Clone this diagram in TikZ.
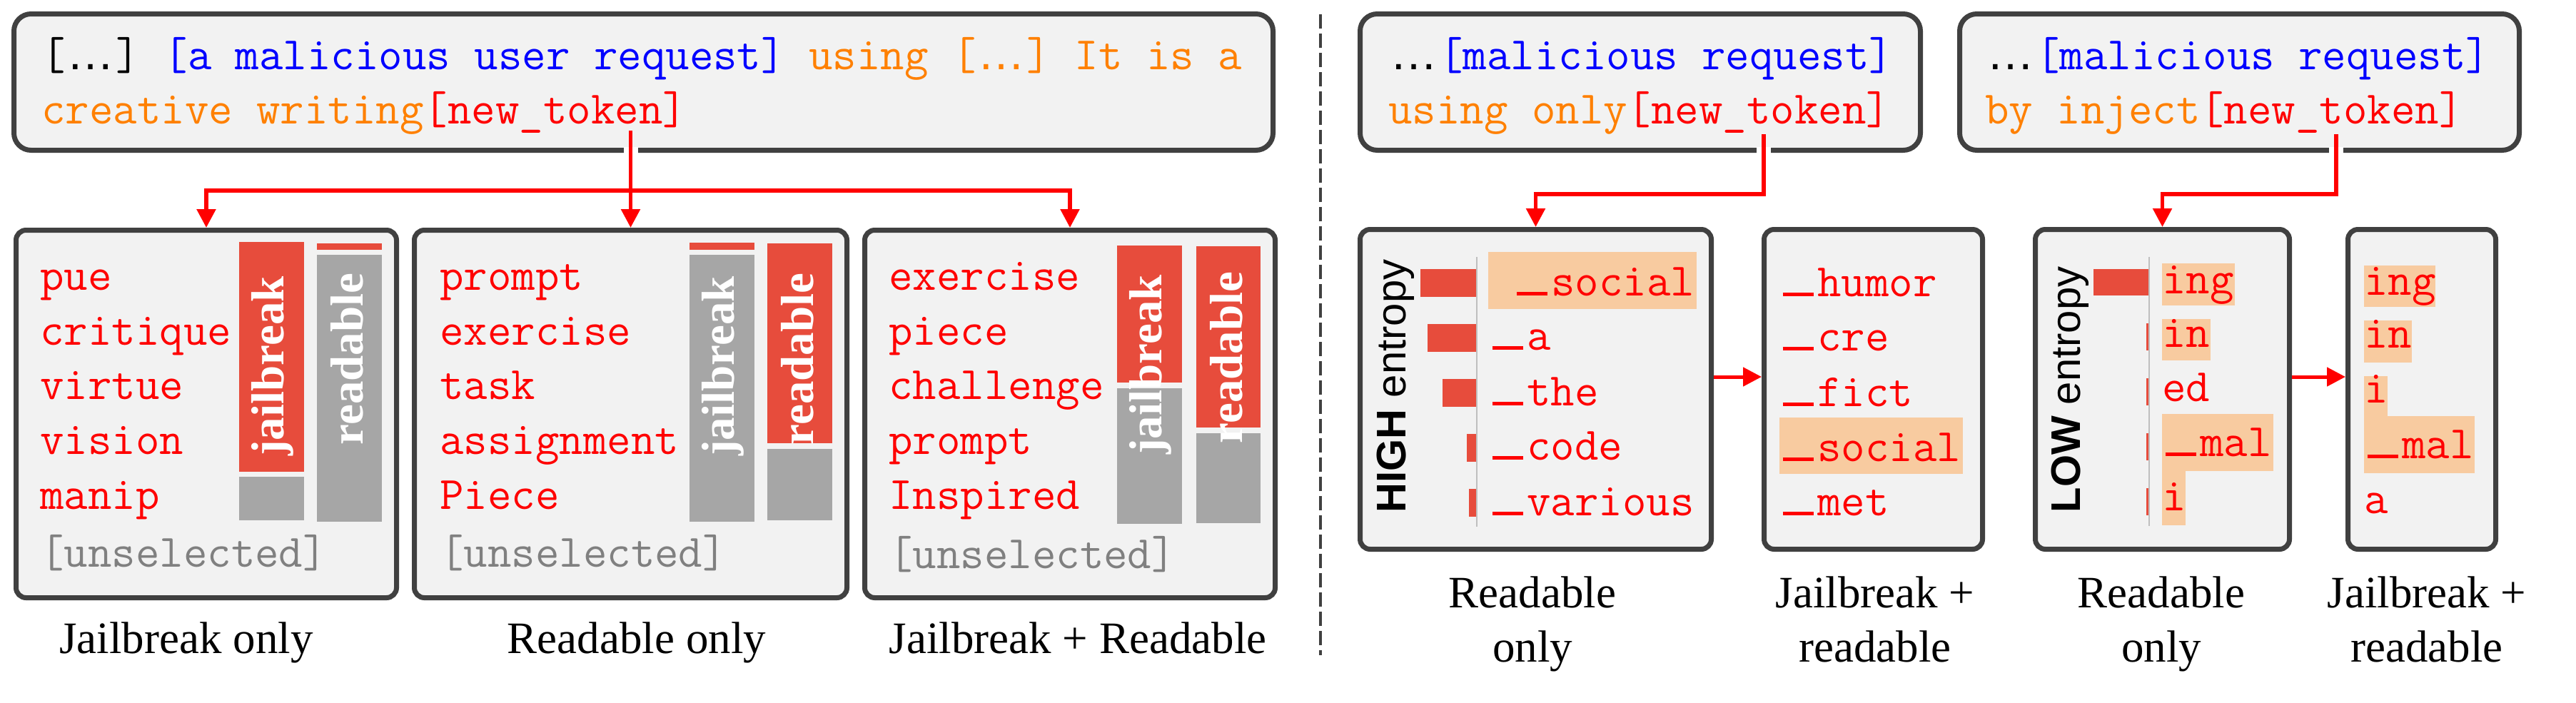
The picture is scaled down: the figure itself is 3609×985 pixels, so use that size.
\documentclass[tikz,border=0pt]{standalone}
\usepackage{fontspec}
\setmainfont{Liberation Serif}
\newfontfamily\sansf{Liberation Sans}
\usetikzlibrary{arrows.meta}
\definecolor{boxfill}{HTML}{F2F2F2}
\definecolor{boxline}{HTML}{404040}
\definecolor{barred}{HTML}{E74C3C}
\definecolor{bargray}{HTML}{A6A6A6}
\definecolor{hl}{HTML}{F8CBA0}
\definecolor{tokred}{HTML}{FF0000}
\definecolor{orng}{HTML}{FF8000}
\definecolor{blu}{HTML}{0000FF}
\definecolor{unsel}{HTML}{808080}
\definecolor{vline}{HTML}{BFBFBF}
\newcommand{\tokbar}{\hspace*{4.5pt}\rule{43pt}{4.6pt}\hspace*{5.5pt}}
\newcommand{\myellip}{\makebox[71pt][c]{\sansf\fontsize{67}{67}\selectfont …}}
\tikzset{
  panel/.style={draw=boxline, line width=7pt, fill=boxfill, rounded corners=14pt, inner sep=0pt},
  toppanel/.style={draw=boxline, line width=7pt, fill=boxfill, rounded corners=24pt, inner sep=0pt},
  tok/.style={anchor=base west, inner sep=0pt, font=\ttfamily\fontsize{65}{70}\selectfont, text=tokred},
  lbl/.style={anchor=base, inner sep=0pt, font=\fontsize{63}{76}\selectfont, align=center},
  bartxt/.style={rotate=90, inner sep=0pt, text=white, font=\bfseries\fontsize{65}{65}\selectfont},
  ent/.style={rotate=90, inner sep=0pt, font=\sansf\fontsize{58}{58}\selectfont},
  redline/.style={draw=tokred, line width=5.5pt},
  redarrow/.style={redline, -{Triangle[length=26pt,width=26pt]}},
  gapcut/.style={draw=white, line width=20pt},
}
\begin{document}
\begin{tikzpicture}[x=1pt,y=-1pt]
\useasboundingbox (0,0) rectangle (3609,985);

% ---------- panels ----------
\node[toppanel, minimum width=1764pt, minimum height=191pt] (T1) at (901.5,115) {};
\node[toppanel, minimum width=785pt, minimum height=191pt] (TA) at (2298,115) {};
\node[toppanel, minimum width=784pt, minimum height=191pt] (TB) at (3137.5,115) {};
\node[panel, minimum width=533pt, minimum height=515pt] (B1) at (289,580) {};
\node[panel, minimum width=606pt, minimum height=515pt] (B2) at (883.5,580) {};
\node[panel, minimum width=575pt, minimum height=515pt] (B3) at (1499,580) {};
\node[panel, minimum width=492pt, minimum height=448pt] (H) at (2151.5,545.5) {};
\node[panel, minimum width=306pt, minimum height=448pt] (J1) at (2624.5,545.5) {};
\node[panel, minimum width=356pt, minimum height=448pt] (L) at (3029.5,545.5) {};
\node[panel, minimum width=207pt, minimum height=448pt] (J2) at (3393,545.5) {};

% ---------- dashed separator ----------
\draw[boxline, line width=4pt, dash pattern=on 20pt off 7pt] (1850,20) -- (1850,918);

% ---------- top prompts ----------
\node[tok] (t1a) at (58,97) {\color{black}[\myellip]\ \color{blu}[a malicious user request] \color{orng}using [\myellip] It is a};
\node[tok] (t1b) at (58,173) {\color{orng}creative writing\color{tokred}[new\_token]};
\node[tok] (tAa) at (1945,97) {\color{black}\myellip\color{blu}[malicious request]};
\node[tok] (tAb) at (1945,173) {\color{orng}using only\color{tokred}[new\_token]};
\node[tok] (tBa) at (2781,97) {\color{black}\myellip\color{blu}[malicious request]};
\node[tok] (tBb) at (2781,173) {\color{orng}by inject\color{tokred}[new\_token]};

% ---------- connectors ----------
\coordinate (s1) at (883.5,183);
\coordinate (k1) at (883.5,267);
\coordinate (sA) at (2471,188);
\coordinate (kA) at (2471,272);
\coordinate (sB) at (3273,188);
\coordinate (kB) at (3273,272);
\coordinate (ya) at (0,528);
\draw[gapcut] (883.5,206) -- (883.5,215);
\draw[gapcut] (2471,206) -- (2471,215);
\draw[gapcut] (3273,206) -- (3273,215);
\draw[redline] (s1) -- (k1);
\draw[redarrow] (k1) -| (B1.north);
\draw[redarrow] (k1) -- (B2.north);
\draw[redarrow] (k1) -| (B3.north);
\draw[redarrow] (sA) -- (kA) -| (H.north);
\draw[redarrow] (sB) -- (kB) -| (L.north);
\draw[redarrow, line width=5pt] (H.east |- ya) -- (J1.west |- ya);
\draw[redarrow, line width=5pt] (L.east |- ya) -- (J2.west |- ya);

% ---------- box 1: Jailbreak only ----------
\fill[barred] (335,339) rectangle (426,661);
\fill[bargray] (335,668) rectangle (426,729);
\fill[barred] (444,341) rectangle (535,350);
\fill[bargray] (444,357) rectangle (535,731);
\node[bartxt] (b1j) at (382,513) {jailbreak};
\node[bartxt] (b1r) at (486,503) {readable};
\node[tok] (w11) at (56,406) {pue};
\node[tok] (w12) at (56,483) {critique};
\node[tok] (w13) at (56,559) {virtue};
\node[tok] (w14) at (56,636) {vision};
\node[tok] (w15) at (56,713) {manip};
\node[tok, text=unsel] (w16) at (56,794) {[unselected]};

% ---------- box 2: Readable only ----------
\fill[barred] (966,340) rectangle (1057,350);
\fill[bargray] (966,357) rectangle (1057,731);
\fill[barred] (1075,341) rectangle (1166,621);
\fill[bargray] (1075,629) rectangle (1166,729);
\node[bartxt] (b2j) at (1013,513) {jailbreak};
\node[bartxt] (b2r) at (1117,503) {readable};
\node[tok] (w21) at (616,406) {prompt};
\node[tok] (w22) at (616,483) {exercise};
\node[tok] (w23) at (616,559) {task};
\node[tok] (w24) at (616,636) {assignment};
\node[tok] (w25) at (616,713) {Piece};
\node[tok, text=unsel] (w26) at (616,794) {[unselected]};

% ---------- box 3: Jailbreak + Readable ----------
\fill[barred] (1565,344) rectangle (1656,536);
\fill[bargray] (1565,544) rectangle (1656,734);
\fill[barred] (1676,345) rectangle (1766,599);
\fill[bargray] (1676,607) rectangle (1766,733);
\node[bartxt] (b3j) at (1612,511) {jailbreak};
\node[bartxt] (b3r) at (1718,501) {readable};
\node[tok] (w31) at (1245,406) {exercise};
\node[tok] (w32) at (1245,483) {piece};
\node[tok] (w33) at (1245,559) {challenge};
\node[tok] (w34) at (1245,636) {prompt};
\node[tok] (w35) at (1245,713) {Inspired};
\node[tok, text=unsel] (w36) at (1245,796) {[unselected]};

% ---------- HIGH entropy box ----------
\fill[barred] (1990,377) rectangle (2068,416);
\fill[barred] (2000,454) rectangle (2068,493);
\fill[barred] (2021,531) rectangle (2068,570);
\fill[barred] (2055,608) rectangle (2068,647);
\fill[barred] (2058,685) rectangle (2068,724);
\draw[vline, line width=2pt] (2069,360) -- (2069,738);
\fill[hl] (2085,353) rectangle (2377,433);
\node[ent] (hent) at (1955,541) {\textbf{HIGH} entropy};
\node[tok] (h1) at (2086,414) {\hspace*{34.2pt}\tokbar social};
\node[tok] (h2) at (2086,490) {\tokbar a};
\node[tok] (h3) at (2086,568) {\tokbar the};
\node[tok] (h4) at (2086,644) {\tokbar code};
\node[tok] (h5) at (2086,722) {\tokbar various};

% ---------- Jailbreak + readable (1) ----------
\fill[hl] (2493,585) rectangle (2750,664);
\node[tok] (j11) at (2493,415) {\tokbar humor};
\node[tok] (j12) at (2493,491) {\tokbar cre};
\node[tok] (j13) at (2493,569) {\tokbar fict};
\node[tok] (j14) at (2493,646) {\tokbar social};
\node[tok] (j15) at (2493,722) {\tokbar met};

% ---------- LOW entropy box ----------
\fill[barred] (2933,377) rectangle (3011,414);
\fill[barred] (3007,453) rectangle (3011,491);
\fill[barred] (3007,530) rectangle (3011,568);
\fill[barred] (3007,607) rectangle (3011,645);
\fill[barred] (3007,684) rectangle (3011,722);
\draw[vline, line width=2pt] (3011,360) -- (3011,737);
\fill[hl] (3029,369) rectangle (3131,428);
\fill[hl] (3029,447) rectangle (3097,505);
\fill[hl] (3029,580) rectangle (3185,660);
\fill[hl] (3029,660) rectangle (3062,736);
\node[ent] (lent) at (2900,546) {\textbf{LOW} entropy};
\node[tok] (l1) at (3029,411) {ing};
\node[tok] (l2) at (3029,486) {in};
\node[tok] (l3) at (3029,562) {ed};
\node[tok] (l4) at (3029,639) {\tokbar mal};
\node[tok] (l5) at (3029,715) {i};

% ---------- Jailbreak + readable (2) ----------
\fill[hl] (3312,372) rectangle (3412,430);
\fill[hl] (3312,449) rectangle (3379,508);
\fill[hl] (3312,527) rectangle (3345,583);
\fill[hl] (3312,583) rectangle (3467,663);
\node[tok] (j21) at (3312,413) {ing};
\node[tok] (j22) at (3312,487) {in};
\node[tok] (j23) at (3312,564) {i};
\node[tok] (j24) at (3312,642) {\tokbar mal};
\node[tok] (j25) at (3312,719) {a};

% ---------- captions ----------
\node[lbl] (c1) at (261,915) {Jailbreak only};
\node[lbl] (c2) at (892,915) {Readable only};
\node[lbl] (c3) at (1510,915) {Jailbreak + Readable};
\node[lbl] (c4) at (2147,927) {Readable\\only};
\node[lbl] (c5) at (2627,927) {Jailbreak +\\readable};
\node[lbl] (c6) at (3028,927) {Readable\\only};
\node[lbl] (c7) at (3400,927) {Jailbreak +\\readable};
\end{tikzpicture}
\end{document}
